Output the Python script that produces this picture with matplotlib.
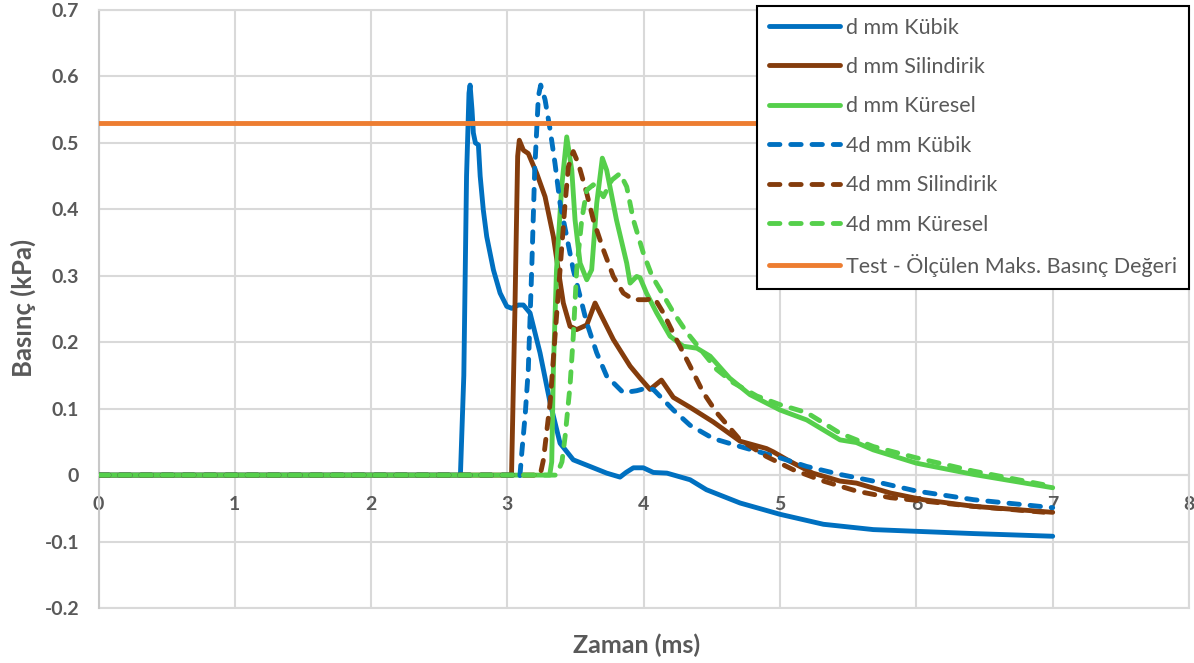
import matplotlib
matplotlib.use("Agg")
import matplotlib.pyplot as plt

plt.rcParams['font.family'] = ['Lato', 'DejaVu Sans']
plt.rcParams['lines.scale_dashes'] = False

# --- data: time (ms) and pressure (kPa) ---
d_kubik_t = [0, 2.655, 2.68, 2.70, 2.718, 2.726, 2.74, 2.75, 2.765, 2.787, 2.80, 2.823, 2.848,
             2.897, 2.946, 2.995, 3.032, 3.08, 3.117, 3.166, 3.239, 3.313, 3.386, 3.483, 3.606,
             3.728, 3.826, 3.87, 3.924, 3.997, 4.07, 4.17, 4.34, 4.46, 4.707, 5.0, 5.318, 5.684,
             6.05, 6.42, 7.0]
d_kubik_p = [0, 0, 0.15, 0.45, 0.575, 0.587, 0.55, 0.515, 0.50, 0.497, 0.45, 0.399, 0.359,
             0.309, 0.274, 0.254, 0.251, 0.256, 0.256, 0.244, 0.184, 0.109, 0.048, 0.023, 0.013,
             0.003, -0.003, 0.004, 0.011, 0.011, 0.004, 0.003, -0.007, -0.022, -0.042, -0.059,
             -0.074, -0.082, -0.085, -0.088, -0.092]

d_silindirik_t = [0, 3.03, 3.055, 3.075, 3.087, 3.117, 3.153, 3.215, 3.276, 3.337, 3.373, 3.41,
                  3.459, 3.508, 3.582, 3.643, 3.679, 3.777, 3.9, 3.973, 4.046, 4.13, 4.217, 4.34,
                  4.51, 4.707, 4.9, 4.95, 5.07, 5.24, 5.44, 5.56, 5.81, 6.05, 6.42, 7.0]
d_silindirik_p = [0, 0, 0.25, 0.48, 0.504, 0.489, 0.484, 0.454, 0.419, 0.359, 0.309, 0.259,
                  0.224, 0.219, 0.226, 0.259, 0.244, 0.204, 0.164, 0.146, 0.129, 0.143, 0.117,
                  0.102, 0.080, 0.051, 0.040, 0.035, 0.021, 0.003, -0.009, -0.012, -0.027, -0.037,
                  -0.047, -0.056]

d_kuresel_t = [0, 3.31, 3.325, 3.337, 3.36, 3.398, 3.435, 3.472, 3.496, 3.533, 3.582, 3.618,
               3.655, 3.696, 3.728, 3.80, 3.875, 3.90, 3.948, 3.973, 4.02, 4.095, 4.193, 4.29,
               4.39, 4.487, 4.63, 4.78, 5.0, 5.196, 5.44, 5.56, 5.684, 6.0, 6.42, 7.0]
d_kuresel_p = [0, 0, 0.02, 0.159, 0.309, 0.434, 0.509, 0.459, 0.384, 0.319, 0.294, 0.309,
               0.409, 0.477, 0.459, 0.384, 0.319, 0.289, 0.299, 0.297, 0.274, 0.244, 0.209,
               0.194, 0.191, 0.179, 0.146, 0.121, 0.098, 0.083, 0.053, 0.049, 0.038, 0.018,
               0.001, -0.019]

d4_kubik_t = [0, 3.05, 3.09, 3.105, 3.13, 3.153, 3.178, 3.2, 3.227, 3.244, 3.276, 3.313, 3.349,
              3.386, 3.435, 3.483, 3.533, 3.582, 3.655, 3.728, 3.85, 3.948, 4.02, 4.07, 4.217,
              4.34, 4.51, 4.707, 5.0, 5.196, 5.44, 5.684, 6.0, 6.42, 7.0]
d4_kubik_p = [0, 0, -0.005, 0.033, 0.09, 0.159, 0.309, 0.459, 0.57, 0.587, 0.565, 0.52, 0.469,
              0.409, 0.359, 0.309, 0.269, 0.229, 0.184, 0.149, 0.124, 0.127, 0.131, 0.129, 0.098,
              0.075, 0.055, 0.043, 0.026, 0.013, 0.001, -0.009, -0.024, -0.037, -0.049]

d4_silindirik_t = [0, 3.24, 3.264, 3.313, 3.349, 3.386, 3.423, 3.447, 3.483, 3.52, 3.582, 3.63,
                   3.704, 3.777, 3.85, 3.924, 4.02, 4.08, 4.144, 4.24, 4.34, 4.437, 4.535, 4.707,
                   4.9, 5.098, 5.318, 5.56, 5.81, 6.05, 6.42, 7.0]
d4_silindirik_p = [0, 0, 0.023, 0.109, 0.209, 0.309, 0.409, 0.464, 0.487, 0.469, 0.424, 0.384,
                   0.339, 0.299, 0.274, 0.264, 0.264, 0.266, 0.244, 0.204, 0.164, 0.124, 0.094,
                   0.053, 0.028, 0.008, -0.009, -0.024, -0.034, -0.039, -0.047, -0.057]

d4_kuresel_t = [0, 3.36, 3.40, 3.423, 3.459, 3.483, 3.508, 3.545, 3.582, 3.63, 3.665, 3.704,
                3.765, 3.826, 3.875, 3.924, 3.997, 4.06, 4.12, 4.217, 4.315, 4.437, 4.535, 4.657,
                4.83, 5.0, 5.196, 5.44, 5.684, 6.0, 6.42, 7.0]
d4_kuresel_p = [0, 0, 0.02, 0.058, 0.134, 0.209, 0.309, 0.384, 0.429, 0.437, 0.43, 0.419,
                0.444, 0.454, 0.434, 0.384, 0.334, 0.30, 0.279, 0.245, 0.215, 0.184, 0.159,
                0.139, 0.119, 0.106, 0.094, 0.063, 0.043, 0.026, 0.006, -0.017]

test_max_t = [0, 8]
test_max_p = [0.53, 0.53]

labels = ["d mm Kübik", "d mm Silindirik", "d mm Küresel",
          "4d mm Kübik", "4d mm Silindirik", "4d mm Küresel",
          "Test - Ölçülen Maks. Basınç Değeri"]
x_ticks = [0, 1, 2, 3, 4, 5, 6, 7, 8]
y_ticks = [-0.2, -0.1, 0, 0.1, 0.2, 0.3, 0.4, 0.5, 0.6, 0.7]

BLUE, BROWN, GREEN, ORANGE = "#0070C0", "#843C0C", "#55CF4B", "#ED7D31"
TXT = "#595959"
GRID = "#d9d9d9"
DASH = (0, (7.5, 7.8))
LW = 3.5

W, H = 1194, 663
fig = plt.figure(figsize=(W / 100, H / 100), dpi=100)
ax_l, ax_r, ax_t, ax_b = 98.5, 1189, 10, 608
ax = fig.add_axes([ax_l / W, 1 - ax_b / H, (ax_r - ax_l) / W, (ax_b - ax_t) / H])

series = [
    (d_kubik_t, d_kubik_p, BLUE, "-"),
    (d_silindirik_t, d_silindirik_p, BROWN, "-"),
    (d_kuresel_t, d_kuresel_p, GREEN, "-"),
    (d4_kubik_t, d4_kubik_p, BLUE, DASH),
    (d4_silindirik_t, d4_silindirik_p, BROWN, DASH),
    (d4_kuresel_t, d4_kuresel_p, GREEN, DASH),
    (test_max_t, test_max_p, ORANGE, "-"),
]
for (t, p, c, ls), lab in zip(series, labels):
    ax.plot(t, p, color=c, linestyle=ls, lw=LW, label=lab,
            solid_capstyle="round", dash_capstyle="round",
            solid_joinstyle="round", dash_joinstyle="round", zorder=3)

ax.set_xlim(0, 8)
ax.set_ylim(-0.2, 0.7)
ax.set_xticks(x_ticks)
ax.set_yticks(y_ticks)
ax.set_xticklabels([str(v) for v in x_ticks])
ax.set_yticklabels(["0" if v == 0 else f"{v:.1f}" for v in y_ticks])
ax.set_axisbelow(True)
ax.grid(True, color=GRID, lw=1.5)

# x axis crosses at zero; frame edges drawn in grid colour
ax.spines['bottom'].set_position(('data', 0))
ax.spines['bottom'].set_color(GRID)
ax.spines['bottom'].set_linewidth(1.5)
ax.spines['left'].set_color("#c8c8c8")
ax.spines['left'].set_linewidth(1.5)
for s in ('top', 'right'):
    ax.spines[s].set_color(GRID)
    ax.spines[s].set_linewidth(1.5)
ax.axhline(-0.2, color=GRID, lw=1.5, clip_on=False, zorder=0.5)

ax.tick_params(axis='x', length=0, pad=15, labelsize=14, labelcolor=TXT)
ax.tick_params(axis='y', length=0, pad=14, labelsize=14, labelcolor=TXT)
for lbl in ax.get_xticklabels() + ax.get_yticklabels():
    lbl.set_fontweight('bold')

fig.text(636.7 / W, 1 - 645 / H, "Zaman (ms)", ha='center', va='center',
         fontsize=18, fontweight='bold', color=TXT)
fig.text(23 / W, 1 - 308 / H, "Basınç (kPa)", ha='center', va='center', rotation=90,
         fontsize=18.5, fontweight='bold', color=TXT)

leg = ax.legend(loc='upper right', bbox_to_anchor=(1.0, 1.007), borderaxespad=0,
                fancybox=False, frameon=True, framealpha=1, edgecolor='black',
                fontsize=15.5, handlelength=3.3, handletextpad=0.3, labelspacing=0.9,
                borderpad=0.55, labelcolor=TXT)
leg.get_frame().set_linewidth(1.5)
leg.set_zorder(5)

fig.savefig("out.png", dpi=100)
